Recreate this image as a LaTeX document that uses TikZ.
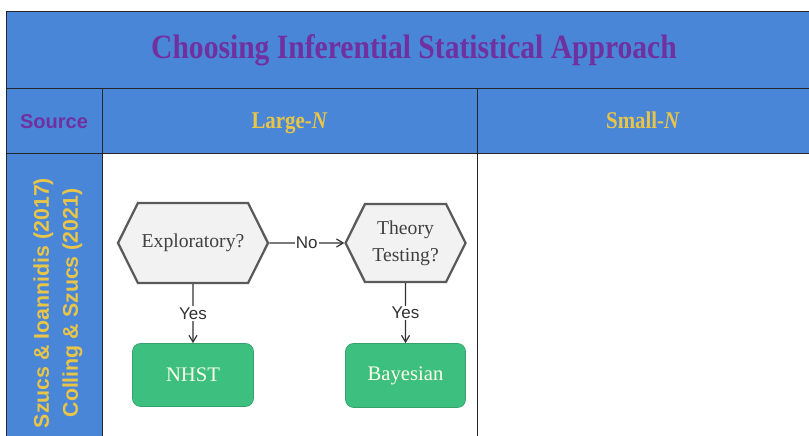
\documentclass[tikz,border=0pt]{standalone}
\usepackage{fontspec}
\setmainfont{Liberation Serif}
\setsansfont{Liberation Sans}
\newfontfamily\headfont[FakeStretch=0.87]{Liberation Serif}
\usetikzlibrary{arrows.meta,positioning,shapes.symbols}
\definecolor{bandblue}{HTML}{4A86D8}
\definecolor{titlepurple}{HTML}{7030A0}
\definecolor{headgold}{HTML}{E8C547}
\definecolor{leafgreen}{HTML}{3DBF7F}
\definecolor{hexfill}{HTML}{F2F2F2}
\definecolor{hexline}{HTML}{5A5A5A}

\begin{document}
\begin{tikzpicture}[
  x=0.75pt, y=-0.75pt,
  cell/.style={draw=black!85, line width=0.75pt},
  band/.style={cell, fill=bandblue},
  head/.style={anchor=base, font=\headfont\bfseries\fontsize{18}{20}\selectfont, text=headgold},
  question/.style={shape=signal, signal to=east and west, signal pointer angle=127, draw=hexline, line width=1.7pt, fill=hexfill, text=black!75, align=center, font=\fontsize{14.75}{20.25}\selectfont, inner sep=2pt},
  leaf/.style={draw=leafgreen!85!black, line width=0.5pt, fill=leafgreen, rounded corners=6pt, text=white!92!yellow, font=\fontsize{15.5}{18}\selectfont},
  arr/.style={-{Straight Barb[length=5pt,width=6pt]}, line width=0.9pt, draw=black!80},
  lbl/.style={fill=white, inner sep=1pt, font=\sffamily\fontsize{12.75}{14}\selectfont, text=black!80}
]
  \useasboundingbox (0,0) rectangle (809,435);

  % table cells
  \draw[band] (6,12) rectangle (812,88);
  \draw[band] (6,88) rectangle (102,153);
  \draw[band] (102,88) rectangle (477,153);
  \draw[band] (477,88) rectangle (812,153);
  \draw[band] (6,153) rectangle (102,440);
  \draw[cell, fill=white] (102,153) rectangle (477,440);
  \draw[cell, fill=white] (477,153) rectangle (812,440);

  % header texts
  \node[font=\headfont\bfseries\fontsize{25.5}{30}\selectfont, text=titlepurple] (title) at (414,50) {Choosing Inferential Statistical Approach};
  \node[font=\sffamily\bfseries\fontsize{15}{18}\selectfont, text=titlepurple] (source) at (54,122) {Source};
  \node[head] (large) at (289.5,128) {Large-\textit{N}};
  \node[head] (small) at (643,128) {Small-\textit{N}};
  \node[rotate=90, align=center, font=\sffamily\bfseries\fontsize{16}{21.75}\selectfont, text=headgold] (refs) at (58,303) {Szucs \& Ioannidis (2017)\\Colling \& Szucs (2021)};

  % flow
  \node[question, minimum width=112.5pt, minimum height=60pt] (explore) at (193,243) {Exploratory?};
  \node[question, minimum width=90pt, minimum height=58.5pt, right=56.25pt of explore] (theory) {Theory\\Testing?};
  \node[leaf, minimum width=90.75pt, minimum height=47.25pt, below=44.25pt of explore] (nhst) {NHST};
  \node[leaf, minimum width=90pt, minimum height=48pt, below=45pt of theory] (bayes) {Bayesian};

  \draw[arr] (explore) -- node[lbl]{No} (theory);
  \draw[arr] (explore) -- node[lbl]{Yes} (nhst);
  \draw[arr] (theory) -- node[lbl]{Yes} (bayes);
\end{tikzpicture}
\end{document}
